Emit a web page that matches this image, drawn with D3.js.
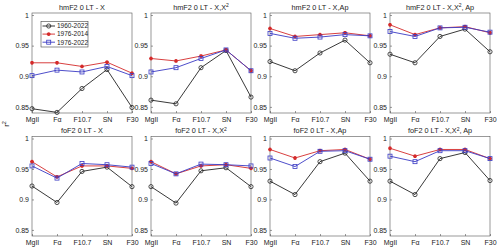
<!DOCTYPE html>
<html><head><meta charset="utf-8">
<script src="https://d3js.org/d3.v7.min.js"></script>
<style>body{margin:0;background:#fff}svg{display:block}</style>
</head><body>
<script>
const categories = ["MgII","Fα","F10.7","SN","F30"];
const seriesNames = ["1960-2022","1976-2014","1976-2022"];
const titles = [
  ["hmF2 0 LT - X", ""],["hmF2 0 LT - X,X", "2"],["hmF2 0 LT - X,Ap",""],["hmF2 0 LT - X,X", "2", ", Ap"],
  ["foF2 0 LT - X", ""],["foF2 0 LT - X,X", "2"],["foF2 0 LT - X,Ap",""],["foF2 0 LT - X,X", "2", ", Ap"]
];
const yTicks = [0.85, 0.9, 0.95, 1];
// values per panel: [1960-2022, 1976-2014, 1976-2022]
const p1_black = [0.847,0.841,0.880,0.911,0.849];
const p1_red   = [0.922,0.922,0.916,0.923,0.905];
const p1_blue  = [0.901,0.910,0.907,0.916,0.901];
const p2_black = [0.861,0.855,0.914,0.942,0.866];
const p2_red   = [0.929,0.925,0.933,0.943,0.909];
const p2_blue  = [0.907,0.914,0.929,0.943,0.909];
const p3_black = [0.924,0.909,0.938,0.959,0.922];
const p3_red   = [0.978,0.965,0.968,0.971,0.966];
const p3_blue  = [0.970,0.962,0.964,0.968,0.966];
const p4_black = [0.936,0.922,0.965,0.977,0.940];
const p4_red   = [0.984,0.968,0.979,0.981,0.971];
const p4_blue  = [0.973,0.965,0.979,0.980,0.972];
const p5_black = [0.922,0.895,0.946,0.953,0.921];
const p5_red   = [0.962,0.937,0.955,0.955,0.951];
const p5_blue  = [0.955,0.935,0.959,0.957,0.953];
const p6_black = [0.921,0.894,0.947,0.952,0.921];
const p6_red   = [0.962,0.942,0.955,0.957,0.951];
const p6_blue  = [0.959,0.942,0.958,0.957,0.955];
const p7_black = [0.930,0.908,0.962,0.976,0.930];
const p7_red   = [0.982,0.968,0.980,0.982,0.966];
const p7_blue  = [0.968,0.954,0.979,0.980,0.966];
const p8_black = [0.930,0.908,0.967,0.977,0.931];
const p8_red   = [0.984,0.971,0.982,0.982,0.967];
const p8_blue  = [0.971,0.962,0.980,0.980,0.967];
const panels = [
  [p1_black,p1_red,p1_blue],[p2_black,p2_red,p2_blue],[p3_black,p3_red,p3_blue],[p4_black,p4_red,p4_blue],
  [p5_black,p5_red,p5_blue],[p6_black,p6_red,p6_blue],[p7_black,p7_red,p7_blue],[p8_black,p8_red,p8_blue]
];

const W=500,H=249;
const svg=d3.select("body").append("svg").attr("width",W).attr("height",H)
  .style("font-family","'Liberation Sans', Arial, sans-serif");
const colors=["#222","#d42a2a","#3a3ac4"];
const lefts=[32,151,270,390], pw=100;
const rows=[{top:13,bottom:113},{top:136.5,bottom:236}];

function marker(g,type,x,y,c){
  if(type===0){ g.append("circle").attr("cx",x).attr("cy",y).attr("r",2.1).attr("fill","none").attr("stroke",c).attr("stroke-width",0.8); }
  else if(type===1){
    const s=1.9;
    g.append("path").attr("d",`M${x-s},${y}H${x+s}M${x},${y-s}V${y+s}M${x-s*0.7},${y-s*0.7}L${x+s*0.7},${y+s*0.7}M${x-s*0.7},${y+s*0.7}L${x+s*0.7},${y-s*0.7}`)
      .attr("stroke",c).attr("stroke-width",1.1);
  } else {
    g.append("rect").attr("x",x-2).attr("y",y-2).attr("width",4).attr("height",4).attr("fill","none").attr("stroke",c).attr("stroke-width",0.8);
  }
}

panels.forEach((data,i)=>{
  const r=Math.floor(i/4), c=i%4;
  const L=lefts[c], R=L+pw, T=rows[r].top, B=rows[r].bottom;
  const x=d3.scalePoint().domain(categories).range([L,R]);
  const y=d3.scaleLinear().domain([0.84,1.0033]).range([B,T]);
  const g=svg.append("g");
  // frame
  g.append("rect").attr("x",L).attr("y",T).attr("width",pw).attr("height",B-T).attr("fill","#fff").attr("stroke","#555").attr("stroke-width",0.6);
  // axes
  const ya=d3.axisLeft(y).tickValues(yTicks).tickSizeInner(-2).tickSizeOuter(0).tickPadding(3).tickFormat(d=>d===1?"1":d3.format("")(d));
  const yg=g.append("g").attr("transform",`translate(${L},0)`).call(ya);
  const xa=d3.axisBottom(x).tickSizeInner(-2).tickSizeOuter(0).tickPadding(4);
  const xg=g.append("g").attr("transform",`translate(0,${B})`).call(xa);
  [yg,xg].forEach(a=>{a.select(".domain").remove();a.selectAll("line").attr("stroke","#555").attr("stroke-width",0.6);
    a.selectAll("text").attr("font-size",7).attr("fill","#222").attr("font-family","'Liberation Sans', Arial, sans-serif");});
  // title
  const t=titles[i];
  const tt=g.append("text").attr("x",(L+R)/2).attr("y",T-3.5).attr("text-anchor","middle").attr("font-size",7.3).attr("fill","#222");
  tt.append("tspan").text(t[0]);
  if(t[1]) tt.append("tspan").attr("dy",-2.5).attr("font-size",5).text(t[1]);
  if(t[2]) tt.append("tspan").attr("dy",2.5).text(t[2]);
  // series
  const line=d3.line().x((d,k)=>x(categories[k])).y(d=>y(d));
  data.forEach((s,k)=>{
    g.append("path").datum(s).attr("d",line).attr("fill","none").attr("stroke",colors[k]).attr("stroke-width",0.9);
    s.forEach((v,j)=>marker(g,k,x(categories[j]),y(v),colors[k]));
  });
  if(i===0){
    const lg=g.append("g");
    lg.append("rect").attr("x",41).attr("y",21.5).attr("width",47).attr("height",25.5).attr("fill","#fff").attr("stroke","#444").attr("stroke-width",0.6);
    seriesNames.forEach((n,k)=>{
      const yy=26+k*8.1;
      lg.append("line").attr("x1",42.5).attr("x2",55).attr("y1",yy).attr("y2",yy).attr("stroke",colors[k]).attr("stroke-width",0.9);
      marker(lg,k,48.7,yy,colors[k]);
      lg.append("text").attr("x",57).attr("y",yy+2.3).attr("font-size",6.5).attr("fill","#222").text(n);
    });
  }
});
// y label
const yl=svg.append("text").attr("transform","translate(9,124) rotate(-90)").attr("text-anchor","middle").attr("font-size",8).attr("fill","#222");
yl.append("tspan").text("r");
yl.append("tspan").attr("dy",-3).attr("font-size",5.5).text("2");
</script>
</body></html>
